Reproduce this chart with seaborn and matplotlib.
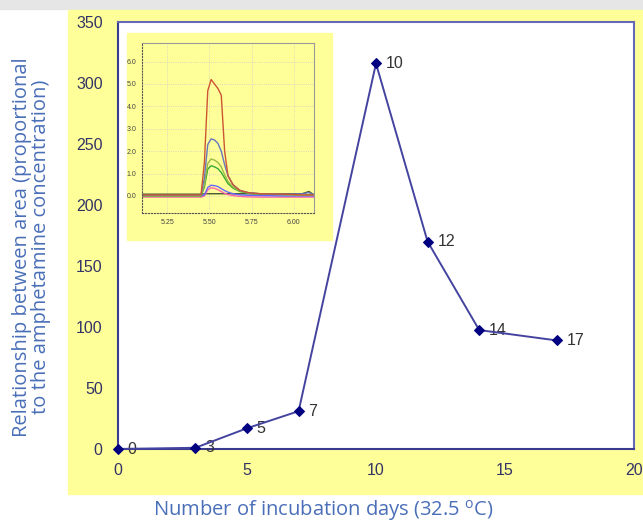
import seaborn as sns
import matplotlib.pyplot as plt
import matplotlib.patches as mpatches
import pandas as pd

# main series: area ratio vs incubation days
days = [0, 3, 5, 7, 10, 12, 14, 17]
area_ratio = [0, 1, 17, 31, 316, 170, 97.5, 89]
point_labels = ["0", "3", "5", "7", "10", "12", "14", "17"]

# inset chromatogram traces (retention time vs signal)
rt = [5.08, 5.45, 5.47, 5.49, 5.51, 5.53, 5.55, 5.57, 5.59, 5.61, 5.64, 5.68, 5.73, 5.80, 5.95, 6.05, 6.09, 6.12]
trace_red = [0.05, 0.05, 1.5, 4.7, 5.2, 5.0, 4.8, 4.5, 2.0, 0.9, 0.5, 0.25, 0.15, 0.1, 0.08, 0.05, 0.05, 0.05]
trace_blue = [0.05, 0.05, 0.8, 2.3, 2.55, 2.5, 2.35, 2.0, 1.4, 0.9, 0.5, 0.25, 0.15, 0.1, 0.08, 0.1, 0.15, 0.05]
trace_lgreen = [0.0, 0.0, 0.5, 1.45, 1.65, 1.6, 1.5, 1.3, 0.95, 0.65, 0.4, 0.22, 0.13, 0.1, 0.07, 0.05, 0.05, 0.03]
trace_green = [0.0, 0.0, 0.4, 1.2, 1.35, 1.3, 1.22, 1.05, 0.8, 0.55, 0.35, 0.2, 0.12, 0.08, 0.06, 0.05, 0.05, 0.03]
trace_purple = [0.0, 0.0, 0.05, 0.38, 0.48, 0.46, 0.42, 0.33, 0.24, 0.17, 0.1, 0.05, 0.03, 0.02, 0.0, 0.0, 0.0, 0.0]
trace_pink = [-0.05, -0.05, 0.0, 0.27, 0.37, 0.34, 0.28, 0.2, 0.12, 0.06, 0.02, -0.02, -0.04, -0.05, -0.05, -0.05, -0.05, -0.05]
trace_dark = [0.08, 0.08, 0.1, 0.1, 0.1, 0.1, 0.1, 0.1, 0.1, 0.1, 0.1, 0.1, 0.1, 0.1, 0.1, 0.1, 0.2, 0.05]

sns.set_style("white")
plt.rcParams['font.family'] = ['Liberation Sans', 'DejaVu Sans']

fig = plt.figure(figsize=(6.43, 5.22), dpi=100)

# backgrounds
fig.patches.append(mpatches.Rectangle((0, 1 - 9 / 522), 1, 9 / 522, transform=fig.transFigure,
                                      color="#e6e6e6", zorder=-10))
fig.patches.append(mpatches.Rectangle((68 / 643, (522 - 494) / 522), 1, (494 - 10) / 522,
                                      transform=fig.transFigure, color="#ffff99", zorder=-10))

ax = fig.add_axes([118 / 643, 73 / 522, 516 / 643, 427 / 522], zorder=0)
ax.set_facecolor("white")

df = pd.DataFrame({"days": days, "area": area_ratio})
sns.lineplot(data=df, x="days", y="area", ax=ax, color="#4444a0", linewidth=1.4,
             marker="D", markersize=5.5, markerfacecolor="#000080", markeredgecolor="#000080",
             clip_on=False, zorder=5)

for d, a, lab in zip(days, area_ratio, point_labels):
    ax.annotate(lab, (d, a), xytext=(7, 0), textcoords="offset points",
                va="center", ha="left", fontsize=11.5, color="#333333")

ax.set_xlim(0, 20)
ax.set_ylim(0, 350)
ax.set_xticks([0, 5, 10, 15, 20])
ax.set_yticks(range(0, 351, 50))
for side, s in ax.spines.items():
    s.set_color("#3a3a90" if side in ("left", "bottom") else "#6666bb")
    s.set_linewidth(1.5)
ax.tick_params(axis="both", direction="out", length=5, width=1.3, color="#303080",
               labelsize=11.5, labelcolor="#333366", pad=6)
ax.tick_params(axis="x", pad=5)
ax.set_xlabel("Number of incubation days (32.5 $^{\\mathregular{o}}$C)", family="Open Sans",
              fontsize=14.5, color="#4a6fb8")
ax.xaxis.set_label_coords(0.397, -0.115)
ax.set_ylabel("Relationship between area (proportional\nto the amphetamine concentration)",
              family="Open Sans", fontsize=14.5, color="#4a6fb8", linespacing=0.95)
ax.yaxis.set_label_coords(-0.13, 0.473)

# inset chromatogram
fig.patches.append(mpatches.Rectangle((127 / 643, (522 - 240) / 522), 205 / 643, 207 / 522,
                                      transform=fig.transFigure, color="#ffff99", zorder=2))
ins = fig.add_axes([142 / 643, (522 - 213) / 522, 172 / 643, 170 / 522], zorder=3)
ins.set_facecolor("#ffff99")
trace_colors = [("dark", trace_dark, "#445533"), ("pink", trace_pink, "#ff66aa"),
                ("purple", trace_purple, "#6666ff"), ("green", trace_green, "#33aa33"),
                ("lgreen", trace_lgreen, "#99bb44"), ("blue", trace_blue, "#6677bb"),
                ("red", trace_red, "#cc5533")]
for name, vals, col in trace_colors:
    sns.lineplot(x=rt, y=vals, ax=ins, color=col, linewidth=1.0)
ins.set_xlim(5.10, 6.12)
ins.set_ylim(-0.76, 6.83)
ins.set_xticks([5.25, 5.50, 5.75, 6.00])
ins.set_xticklabels(["5.25", "5.50", "5.75", "6.00"])
ins.set_yticks([0, 1, 2, 3, 4, 5, 6])
ins.set_yticklabels(["0.0", "1.0", "2.0", "3.0", "4.0", "5.0", "6.0"])
ins.grid(True, linestyle=":", color="#cccccc", linewidth=0.6)
for s in ins.spines.values():
    s.set_color("#999999")
    s.set_linewidth(0.8)
ins.spines["left"].set_linestyle(":")
ins.spines["left"].set_color("#555555")
ins.spines["bottom"].set_linestyle(":")
ins.spines["bottom"].set_color("#555555")
ins.tick_params(axis="both", labelsize=5, length=2, color="#555555", labelcolor="#444444", pad=2)
ins.set_xlabel("")
ins.set_ylabel("")

fig.savefig("out.png", dpi=100)
